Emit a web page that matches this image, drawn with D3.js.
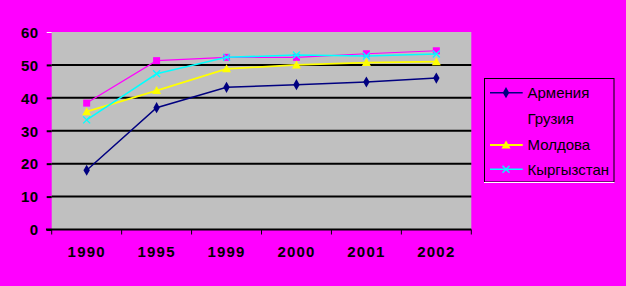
<!DOCTYPE html>
<html><head><meta charset="utf-8">
<script src="https://cdn.jsdelivr.net/npm/d3@7"></script>
<style>body{margin:0;background:#FF00FF;}svg{display:block;}</style>
</head><body>
<script>
const categories = ["1990","1995","1999","2000","2001","2002"];
const seriesNames = ["Армения","Грузия","Молдова","Кыргызстан"];
const armenia    = [18, 37, 43.2, 44, 44.8, 46];
const georgia    = [38.4, 51.3, 52.3, 52.3, 53.4, 54.3];
const moldova    = [35.8, 42.2, 48.8, 50, 50.7, 51];
const kyrgyzstan = [33.3, 47.3, 52.3, 53, 52.7, 53.3];
const yTicks = [0,10,20,30,40,50,60];

const colors = ["#000080","#FF00FF","#FFFF00","#00FFFF"];
const markers = ["diamond","square","triangle","x"];
const data = [armenia, georgia, moldova, kyrgyzstan];

const W=626,H=286;
const svg = d3.select("body").append("svg").attr("width",W).attr("height",H);
svg.append("rect").attr("width",W).attr("height",H).attr("fill","#FF00FF");

const x = d3.scaleBand().domain(categories).range([51.7,471.3]);
const y = d3.scaleLinear().domain([0,60]).range([229.5,32]);

svg.append("rect").attr("x",51.7).attr("y",32).attr("width",471.3-51.7).attr("height",229.5-32).attr("fill","#C0C0C0");

svg.append("g").selectAll("line").data(yTicks.filter(d=>d>0&&d<60)).join("line")
  .attr("x1",51.7).attr("x2",471.3).attr("y1",d=>y(d)).attr("y2",d=>y(d))
  .attr("stroke","#000").attr("stroke-width",2);

const ya = svg.append("g").attr("transform","translate(51.7,0)")
  .call(d3.axisLeft(y).tickValues(yTicks).tickSize(5).tickPadding(8));
ya.select(".domain").remove();
ya.selectAll(".tick line").attr("stroke",d=>d===60?"#fff":"#000").attr("stroke-width",d=>d===60?1:2);
ya.selectAll(".tick text").attr("font-family","Liberation Sans, Arial, sans-serif")
  .attr("font-size",15).attr("font-weight","bold").attr("fill","#000").attr("x",-13).attr("dy","0.35em").attr("letter-spacing","0.5px");

svg.append("line").attr("x1",46).attr("x2",471.3).attr("y1",229.5).attr("y2",229.5).attr("stroke","#000").attr("stroke-width",2);
const bounds = categories.map(c=>x(c)).concat([x.range()[1]]);
svg.append("g").selectAll("line").data(bounds).join("line")
  .attr("x1",d=>d).attr("x2",d=>d).attr("y1",229.5).attr("y2",234.5).attr("stroke","#000").attr("stroke-width",1);
const xa = svg.append("g").attr("transform","translate(0,229.5)")
  .call(d3.axisBottom(x).tickSize(0).tickPadding(17));
xa.select(".domain").remove();
xa.selectAll(".tick text").attr("font-family","Liberation Sans, Arial, sans-serif")
  .attr("font-size",15).attr("font-weight","bold").attr("fill","#000").attr("letter-spacing","1.2px");

const cx = c=>x(c)+x.bandwidth()/2;

function drawMarker(g, type, color, px, py){
  if(type==="diamond"){
    g.append("path").attr("d",d3.symbol(d3.symbolDiamond,36)()).attr("transform",`translate(${px},${py})`).attr("fill",color);
  } else if(type==="square"){
    g.append("rect").attr("x",px-3.5).attr("y",py-3.5).attr("width",7).attr("height",7).attr("fill",color);
  } else if(type==="triangle"){
    g.append("path").attr("d",`M${px},${py-4.5}L${px+4.5},${py+3.5}L${px-4.5},${py+3.5}Z`).attr("fill",color);
  } else {
    g.append("path").attr("d",`M${px-3.5},${py-3.5}L${px+3.5},${py+3.5}M${px+3.5},${py-3.5}L${px-3.5},${py+3.5}`).attr("stroke",color).attr("stroke-width",1.3);
  }
}
const lineWidths=[1.5,1.2,1.8,1.5];
data.forEach((vals,i)=>{
  const g = svg.append("g");
  const line = d3.line().x((d,j)=>cx(categories[j])).y(d=>y(d));
  g.append("path").datum(vals).attr("d",line).attr("fill","none").attr("stroke",colors[i]).attr("stroke-width",lineWidths[i]);
  vals.forEach((v,j)=>drawMarker(g,markers[i],colors[i],cx(categories[j]),y(v)));
});

const lg = svg.append("g");
lg.append("rect").attr("x",484.5).attr("y",78.5).attr("width",129.5).attr("height",103.5).attr("fill","none").attr("stroke","#000").attr("stroke-width",1);
lg.append("line").attr("x1",484).attr("x2",614.5).attr("y1",182.5).attr("y2",182.5).attr("stroke","#fff").attr("stroke-width",1);
const rows=[92.7,119,145,169.3];
seriesNames.forEach((n,i)=>{
  lg.append("line").attr("x1",490).attr("x2",522.7).attr("y1",rows[i]).attr("y2",rows[i]).attr("stroke",colors[i]).attr("stroke-width",lineWidths[i]);
  drawMarker(lg,markers[i],colors[i],506,rows[i]);
  lg.append("text").attr("x",527.5).attr("y",rows[i]).attr("dy","0.36em").text(n)
    .attr("font-family","Liberation Sans, Arial, sans-serif").attr("font-size",15).attr("fill","#000");
});
</script>
</body></html>
